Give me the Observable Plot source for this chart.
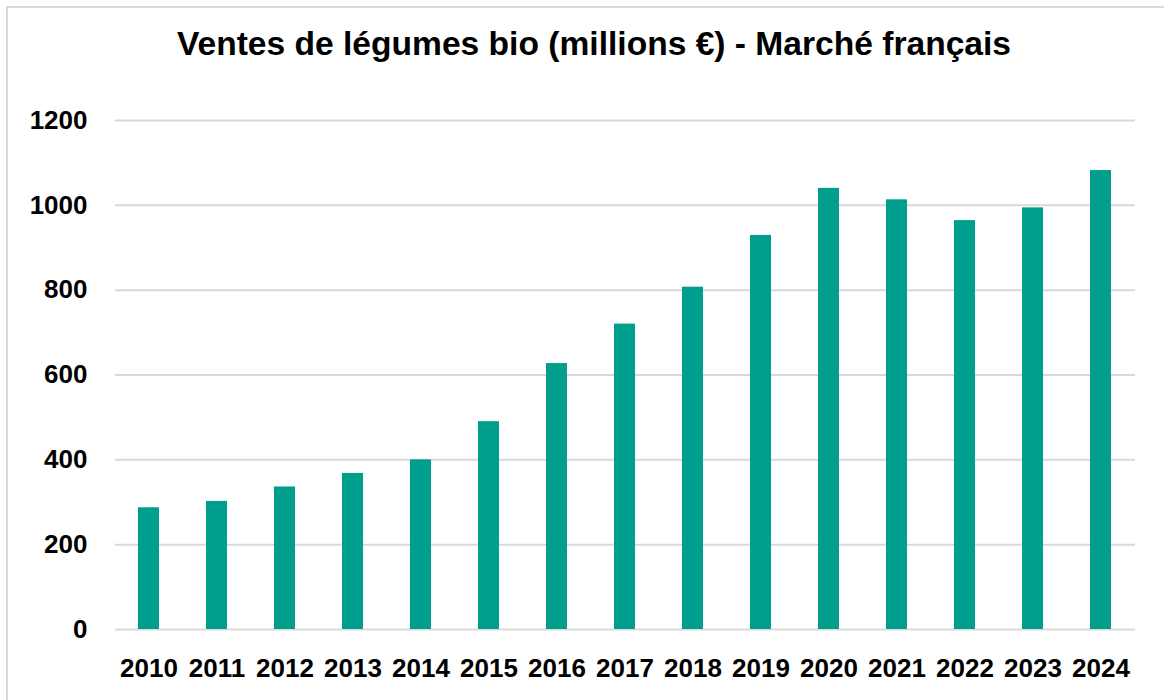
<!DOCTYPE html>
<html>
<head>
<meta charset="utf-8">
<script src="https://cdn.jsdelivr.net/npm/d3@7"></script>
<script src="https://cdn.jsdelivr.net/npm/@observablehq/plot@0.6"></script>
<style>
  html, body { margin: 0; padding: 0; background: #fff; }
  #wrap { position: relative; width: 1164px; height: 700px; overflow: hidden; background: #fff; }
  #frame { position: absolute; left: 6px; top: 6px; width: 1200px; height: 720px; border: 2px solid #d9d9d9; box-sizing: border-box; }
  #title { position: absolute; left: 0; top: 24px; width: 1188px; text-align: center;
           font-family: "Liberation Sans", Arial, sans-serif; font-weight: bold; font-size: 33.6px; color: #000; line-height: 40px; white-space: nowrap; }
  #chart { position: absolute; left: 0; top: 90px; }
  #chart svg { font-family: "Liberation Sans", Arial, sans-serif; }
</style>
</head>
<body>
<div id="wrap">
  <div id="frame"></div>
  <div id="title">Ventes de légumes bio (millions €) - Marché français</div>
  <div id="chart"></div>
</div>
<script>
const years = ["2010","2011","2012","2013","2014","2015","2016","2017","2018","2019","2020","2021","2022","2023","2024"];
const sales = [287, 302, 336, 368, 400, 490, 627, 720, 807, 929, 1040, 1013, 964, 994, 1082];
const yTicks = [0, 200, 400, 600, 800, 1000, 1200];

const data = years.map((y, i) => ({year: y, value: sales[i]}));

const plot = Plot.plot({
  width: 1164,
  height: 610,
  marginLeft: 115,
  marginRight: 29,
  marginTop: 30,
  marginBottom: 71,
  style: {fontFamily: "Liberation Sans, Arial, sans-serif", background: "transparent"},
  x: {domain: years, paddingInner: 0.69, paddingOuter: 0.345, align: 0.5, label: null},
  y: {domain: [0, 1200], label: null},
  marks: [
    Plot.ruleY(yTicks, {stroke: "#d9d9d9", strokeWidth: 2}),
    Plot.barY(data, {x: "year", y: "value", fill: "#009e8c"}),
    Plot.axisY(yTicks, {tickSize: 0, tickPadding: 28, fontSize: 26, fontWeight: "bold", fill: "#000", label: null, tickFormat: d => String(d)}),
    Plot.axisX({tickSize: 0, tickPadding: 29, fontSize: 26, fontWeight: "bold", fill: "#000", label: null})
  ]
});
document.getElementById("chart").appendChild(plot);
</script>
</body>
</html>
